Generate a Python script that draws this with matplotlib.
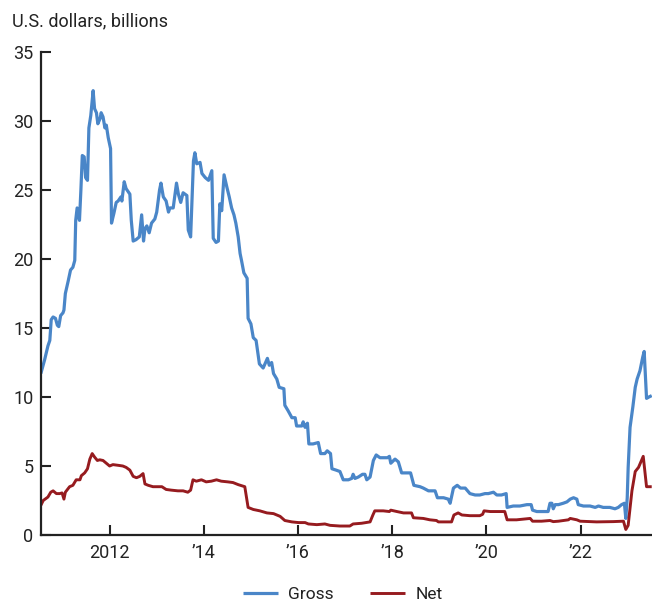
import matplotlib
matplotlib.use("Agg")
import matplotlib.pyplot as plt

plt.rcParams['font.family'] = ['Roboto', 'DejaVu Sans']

# Gross: (decimal year, value in billions of U.S. dollars)
gross_year = [
    2010.54, 2010.62, 2010.69, 2010.73, 2010.76, 2010.80, 2010.85, 2010.89, 2010.92, 2010.96,
    2011.01, 2011.03, 2011.06, 2011.12, 2011.17, 2011.22, 2011.26, 2011.28, 2011.31, 2011.36,
    2011.39, 2011.42, 2011.46, 2011.49, 2011.53, 2011.56, 2011.60, 2011.65, 2011.68, 2011.72,
    2011.75, 2011.80, 2011.82, 2011.86, 2011.90, 2011.93, 2011.97, 2012.02, 2012.04, 2012.09,
    2012.14, 2012.18, 2012.24, 2012.26, 2012.31, 2012.35, 2012.43, 2012.46, 2012.50, 2012.56,
    2012.63, 2012.68, 2012.72, 2012.75, 2012.79, 2012.84, 2012.89, 2012.96, 2013.00, 2013.06,
    2013.09, 2013.14, 2013.20, 2013.25, 2013.28, 2013.35, 2013.42, 2013.46, 2013.51, 2013.56,
    2013.64, 2013.67, 2013.72, 2013.78, 2013.81, 2013.85, 2013.92, 2013.96, 2014.03, 2014.10,
    2014.17, 2014.20, 2014.26, 2014.31, 2014.34, 2014.38, 2014.43, 2014.49, 2014.54, 2014.59,
    2014.64, 2014.68, 2014.73, 2014.77, 2014.80, 2014.85, 2014.92, 2014.94, 2015.00, 2015.05,
    2015.11, 2015.18, 2015.26, 2015.35, 2015.39, 2015.44, 2015.48, 2015.55, 2015.60, 2015.70,
    2015.72, 2015.79, 2015.87, 2015.94, 2015.97, 2016.08, 2016.11, 2016.15, 2016.20, 2016.23,
    2016.32, 2016.43, 2016.48, 2016.57, 2016.62, 2016.69, 2016.72, 2016.81, 2016.89, 2016.96,
    2017.07, 2017.14, 2017.17, 2017.21, 2017.28, 2017.37, 2017.42, 2017.46, 2017.53, 2017.60,
    2017.66, 2017.74, 2017.81, 2017.90, 2017.94, 2017.97, 2018.06, 2018.13, 2018.20, 2018.31,
    2018.39, 2018.46, 2018.59, 2018.66, 2018.77, 2018.91, 2018.96, 2019.09, 2019.19, 2019.23,
    2019.30, 2019.38, 2019.45, 2019.55, 2019.65, 2019.76, 2019.86, 2019.97, 2020.04, 2020.15,
    2020.22, 2020.32, 2020.42, 2020.44, 2020.57, 2020.71, 2020.86, 2020.95, 2020.98, 2021.07,
    2021.17, 2021.31, 2021.35, 2021.39, 2021.42, 2021.46, 2021.53, 2021.63, 2021.71, 2021.78,
    2021.85, 2021.92, 2021.95, 2022.06, 2022.20, 2022.31, 2022.38, 2022.48, 2022.62, 2022.73,
    2022.80, 2022.87, 2022.93, 2022.96, 2022.99, 2023.01, 2023.05, 2023.11, 2023.16, 2023.20,
    2023.26, 2023.32, 2023.35, 2023.40, 2023.45, 2023.51,
]
gross_value = [
    11.7, 12.7, 13.7, 14.1, 15.6, 15.8, 15.7, 15.2, 15.1, 15.9,
    16.1, 16.3, 17.5, 18.4, 19.2, 19.4, 19.9, 22.8, 23.7, 22.8,
    25.0, 27.5, 27.4, 25.9, 25.7, 29.5, 30.4, 32.2, 30.9, 30.6,
    29.8, 30.2, 30.6, 30.3, 29.5, 29.7, 28.8, 28.0, 22.6, 23.3,
    24.1, 24.2, 24.5, 24.2, 25.6, 25.1, 24.7, 22.8, 21.3, 21.4,
    21.6, 23.2, 21.3, 22.2, 22.4, 21.9, 22.6, 22.9, 23.4, 25.0,
    25.5, 24.5, 24.2, 23.4, 23.7, 23.7, 25.5, 24.7, 24.1, 24.8,
    24.6, 22.1, 21.6, 27.1, 27.7, 26.9, 27.0, 26.2, 25.9, 25.7,
    26.4, 21.5, 21.2, 21.3, 24.0, 23.5, 26.1, 25.2, 24.5, 23.7,
    23.2, 22.6, 21.6, 20.4, 19.9, 19.0, 18.6, 15.7, 15.3, 14.3,
    14.1, 12.4, 12.1, 12.8, 12.3, 12.5, 11.7, 11.3, 10.7, 10.6,
    9.4, 9.0, 8.5, 8.5, 7.9, 7.9, 8.2, 7.8, 8.1, 6.6,
    6.6, 6.7, 5.9, 5.9, 6.1, 5.9, 4.8, 4.7, 4.6, 4.0,
    4.0, 4.1, 4.4, 4.1, 4.2, 4.4, 4.4, 4.0, 4.2, 5.4,
    5.8, 5.6, 5.6, 5.6, 5.7, 5.2, 5.5, 5.3, 4.5, 4.5,
    4.5, 3.6, 3.5, 3.4, 3.2, 3.2, 2.7, 2.7, 2.6, 2.3,
    3.4, 3.6, 3.4, 3.4, 3.0, 2.9, 2.9, 3.0, 3.0, 3.1,
    2.9, 2.9, 3.0, 2.0, 2.1, 2.1, 2.2, 2.2, 1.8, 1.7,
    1.7, 1.7, 2.3, 2.3, 1.9, 2.2, 2.2, 2.3, 2.4, 2.6,
    2.7, 2.6, 2.2, 2.1, 2.1, 2.0, 2.1, 2.0, 2.0, 1.9,
    2.0, 2.2, 2.3, 1.2, 2.7, 4.9, 7.8, 9.3, 10.7, 11.3,
    11.9, 12.9, 13.3, 9.9, 10.0, 10.1,
]

# Net: (decimal year, value in billions of U.S. dollars)
net_year = [
    2010.54, 2010.59, 2010.63, 2010.69, 2010.75, 2010.80, 2010.87, 2010.94, 2010.99, 2011.03,
    2011.06, 2011.15, 2011.22, 2011.29, 2011.37, 2011.40, 2011.47, 2011.53, 2011.58, 2011.63,
    2011.68, 2011.74, 2011.79, 2011.86, 2011.93, 2012.00, 2012.07, 2012.18, 2012.28, 2012.35,
    2012.43, 2012.50, 2012.57, 2012.64, 2012.71, 2012.75, 2012.82, 2012.92, 2013.03, 2013.11,
    2013.20, 2013.31, 2013.45, 2013.56, 2013.66, 2013.72, 2013.77, 2013.84, 2013.95, 2014.05,
    2014.16, 2014.27, 2014.37, 2014.51, 2014.62, 2014.73, 2014.87, 2014.94, 2015.05, 2015.19,
    2015.34, 2015.48, 2015.62, 2015.72, 2015.87, 2016.01, 2016.15, 2016.22, 2016.40, 2016.57,
    2016.68, 2016.89, 2017.10, 2017.17, 2017.35, 2017.53, 2017.59, 2017.63, 2017.81, 2017.94,
    2017.97, 2018.10, 2018.24, 2018.41, 2018.45, 2018.66, 2018.80, 2018.94, 2018.98, 2019.26,
    2019.31, 2019.40, 2019.48, 2019.65, 2019.86, 2019.92, 2019.95, 2020.08, 2020.22, 2020.39,
    2020.44, 2020.64, 2020.93, 2020.98, 2021.17, 2021.35, 2021.42, 2021.53, 2021.74, 2021.78,
    2021.92, 2021.99, 2022.34, 2022.69, 2022.91, 2022.96, 2023.01, 2023.09, 2023.16, 2023.23,
    2023.33, 2023.40, 2023.51,
]
net_value = [
    2.15, 2.5, 2.6, 2.75, 3.1, 3.2, 3.0, 3.0, 3.05, 2.6,
    3.1, 3.5, 3.6, 4.0, 4.0, 4.3, 4.5, 4.8, 5.5, 5.9,
    5.65, 5.4, 5.45, 5.4, 5.2, 5.0, 5.1, 5.05, 5.0, 4.9,
    4.7, 4.25, 4.15, 4.25, 4.45, 3.7, 3.6, 3.5, 3.5, 3.5,
    3.3, 3.25, 3.2, 3.2, 3.1, 3.25, 4.0, 3.9, 4.0, 3.85,
    3.9, 4.0, 3.9, 3.85, 3.8, 3.65, 3.5, 2.0, 1.85, 1.75,
    1.6, 1.55, 1.35, 1.05, 0.95, 0.9, 0.9, 0.8, 0.75, 0.8,
    0.7, 0.65, 0.65, 0.8, 0.85, 0.95, 1.45, 1.75, 1.75, 1.7,
    1.8, 1.7, 1.6, 1.6, 1.25, 1.2, 1.1, 1.05, 0.95, 0.95,
    1.45, 1.6, 1.45, 1.4, 1.4, 1.5, 1.75, 1.7, 1.7, 1.7,
    1.1, 1.1, 1.2, 1.0, 1.0, 1.05, 0.97, 1.0, 1.1, 1.2,
    1.1, 1.0, 0.95, 0.97, 1.0, 0.4, 0.7, 3.2, 4.6, 4.9,
    5.7, 3.5, 3.5,
]

tick_years = [2012, 2014, 2016, 2018, 2020, 2022]
tick_labels = ['2012', '\u201914', '\u201916', '\u201918', '\u201920', '\u201922']
y_ticks = [0, 5, 10, 15, 20, 25, 30, 35]

blue = '#4A86C8'
red = '#961B1F'
axis_color = '#222222'

fig = plt.figure(figsize=(6.52, 6.02), dpi=100)
ax = fig.add_axes([41 / 652, 1 - 535 / 602, 1 - 41 / 652, 483 / 602])

ax.plot(gross_year, gross_value, color=blue, lw=2.3, label='Gross',
        solid_joinstyle='round', solid_capstyle='butt')
ax.plot(net_year, net_value, color=red, lw=2.1, label='Net',
        solid_joinstyle='round', solid_capstyle='butt')

ax.set_xlim(2010.543, 2023.516)
ax.set_ylim(0, 35)
ax.set_xticks(tick_years)
ax.set_xticklabels(tick_labels)
ax.set_yticks(y_ticks)
ax.set_yticklabels([str(v) for v in y_ticks])

for s in ['top', 'right']:
    ax.spines[s].set_visible(False)
for s in ['left', 'bottom']:
    ax.spines[s].set_linewidth(1.6)
    ax.spines[s].set_color(axis_color)

ax.tick_params(axis='both', direction='in', length=7, width=1.5, color=axis_color,
               labelsize=13, labelcolor='#222222')
ax.tick_params(axis='y', pad=5.5)
ax.tick_params(axis='x', pad=6.5)

fig.text(12 / 652, 1 - 21 / 602, 'U.S. dollars, billions', fontsize=13,
         color='#222222', va='center', ha='left')

fig.legend(loc='center', bbox_to_anchor=(343 / 652, 1 - 594 / 602), ncol=2,
           frameon=False, fontsize=12.5, handlelength=2.0, handletextpad=0.6,
           columnspacing=2.1, labelcolor='#222222', borderpad=0.0)

fig.savefig('out.png', dpi=100)
